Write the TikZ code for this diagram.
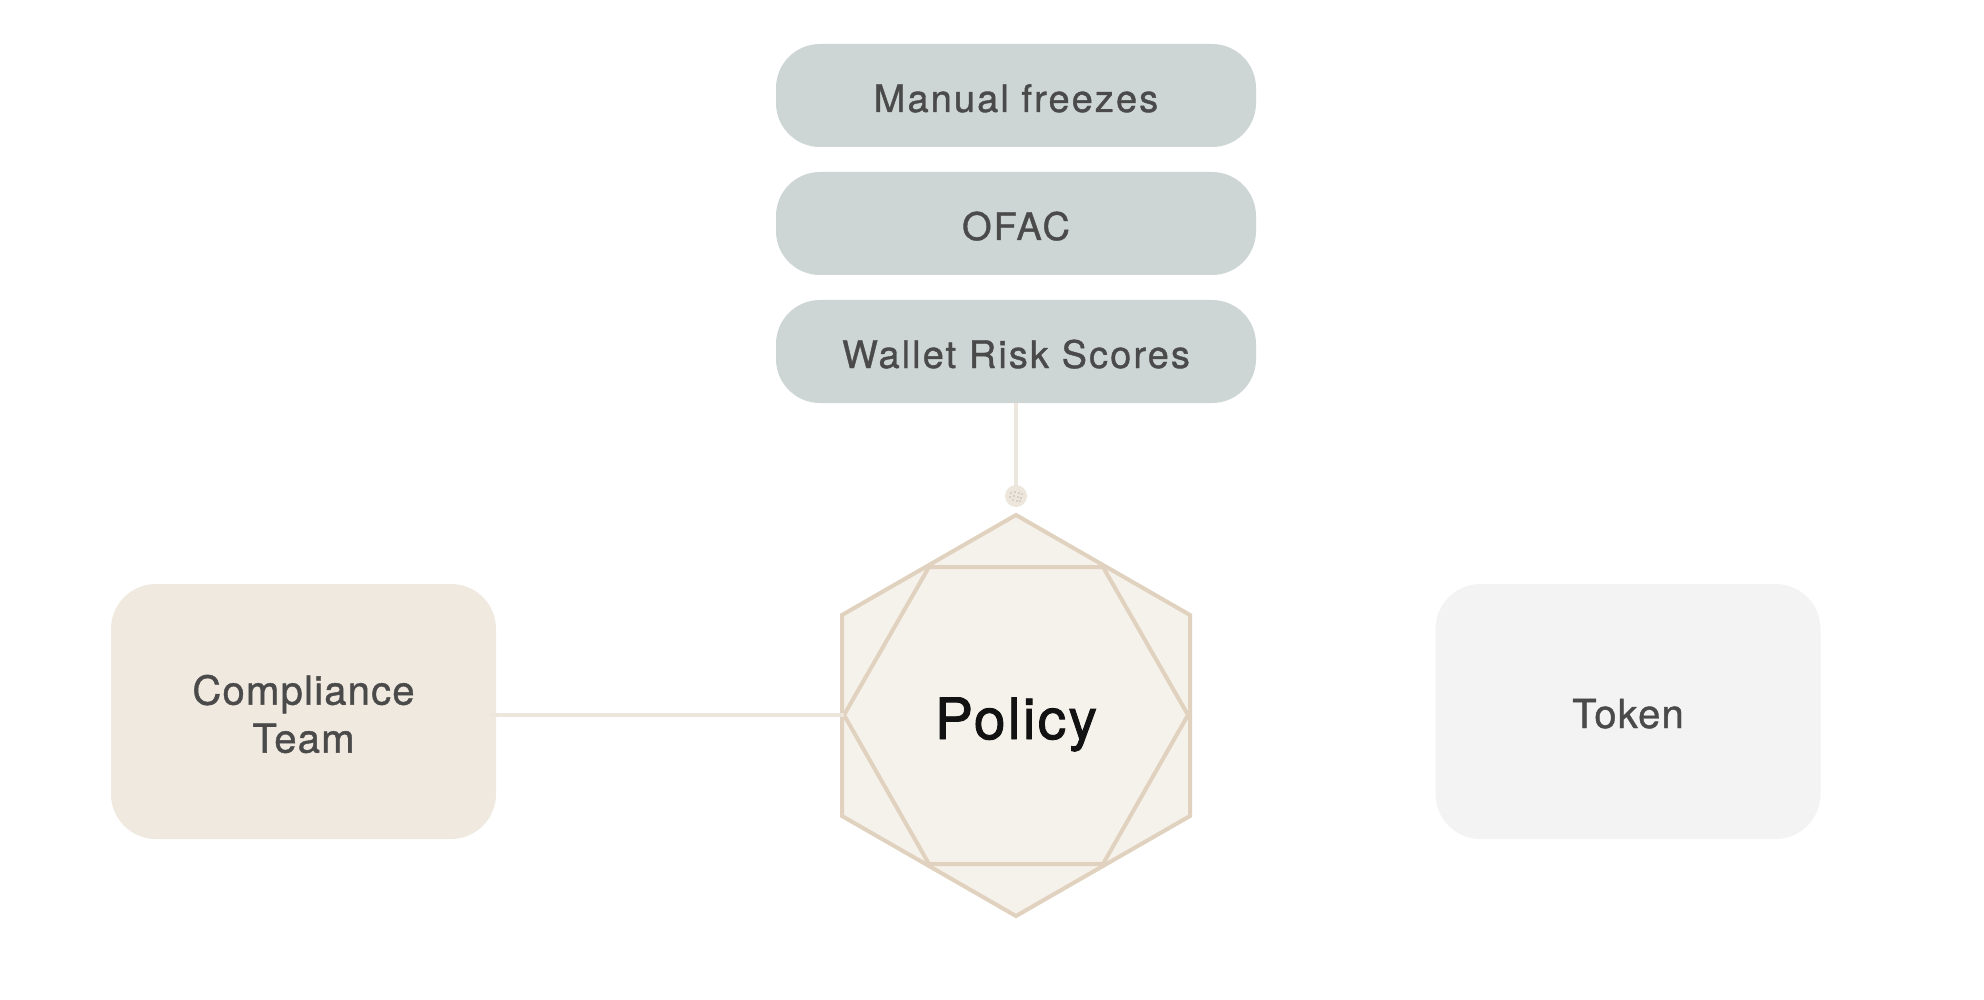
\documentclass[tikz,border=0pt]{standalone}
\usepackage{fontspec}
\usetikzlibrary{calc}
\newfontfamily\pillfont{TeX Gyre Heros}[LetterSpace=5.5,FakeBold=1]
\newfontfamily\uifont{TeX Gyre Heros}[LetterSpace=3,FakeBold=1]
\newfontfamily\policyfont{TeX Gyre Heros}[LetterSpace=4,FakeBold=1.6]
\definecolor{topfill}{HTML}{CDD6D4}
\definecolor{compfill}{HTML}{EFE9E0}
\definecolor{tokfill}{HTML}{F3F3F3}
\definecolor{hexfill}{HTML}{F5F2EC}
\definecolor{hexline}{HTML}{E0D2BE}
\definecolor{linec}{HTML}{EDE6DD}
\definecolor{txt}{HTML}{4A4A4A}
\definecolor{dotc}{HTML}{8A8378}
\begin{document}
\begin{tikzpicture}[x=1pt,y=-1pt,
  pill/.style={rectangle, rounded corners=44pt, fill=topfill, minimum width=480pt, minimum height=103pt, inner sep=0pt, text=txt, text height=33pt, text depth=0pt, font=\pillfont\fontsize{38}{44}\selectfont},
  sidebox/.style={rectangle, rounded corners=45pt, minimum width=385pt, minimum height=255pt, inner sep=0pt},
  sidetext/.style={inner sep=0pt, text=txt, align=center, font=\uifont\fontsize{40}{48}\selectfont},
  conn/.style={draw=linec, line width=4pt},
  hexstroke/.style={draw=hexline, line width=4pt, line join=miter}]
\fill[white] (0,0) rectangle (1984,1000);
\useasboundingbox (0,0) rectangle (1984,1000);

% top pills
\node[pill] (manual) at (1016,95.5) {Manual freezes};
\node[pill] (ofac) at (1016,223.5) {OFAC};
\node[pill] (wrs) at (1016,351.5) {Wallet Risk Scores};

% side boxes
\node[sidebox, fill=compfill] (comp) at (303.5,711.5) {};
\node[sidetext] (comptext) at (303.5,714) {Compliance\\Team};
\node[sidebox, fill=tokfill] (token) at (1628,711.5) {};
\node[sidetext, anchor=base] (toktext) at (1628,728) {Token};

% hexagon
\coordinate (o1) at (1016,515);
\coordinate (o2) at (1190,615);
\coordinate (o3) at (1190,816);
\coordinate (o4) at (1016,916);
\coordinate (o5) at (842,816);
\coordinate (o6) at (842,615);
\coordinate (i1) at (844,715);
\coordinate (i2) at (929,567);
\coordinate (i3) at (1103,567);
\coordinate (i4) at (1188,715);
\coordinate (i5) at (1103,864);
\coordinate (i6) at (929,864);
\fill[hexfill] (o1) -- (o2) -- (o3) -- (o4) -- (o5) -- (o6) -- cycle;
\draw[hexstroke] (o1) -- (o2) -- (o3) -- (o4) -- (o5) -- (o6) -- cycle;
\draw[hexstroke] (i1) -- (i2) -- (i3) -- (i4) -- (i5) -- (i6) -- cycle;
\node[text={black!93}, font=\policyfont\fontsize{57}{62}\selectfont, inner sep=0pt, anchor=base] (policy) at (1016,739) {Policy};

% connectors
\node[circle, fill=linec, minimum size=22pt, inner sep=0pt] (handle) at (1016,496) {};
\draw[conn] (wrs.south) -- (handle.north);
\draw[conn] ($(comp.east |- i1)+(-7,0)$) -- (i1);
\foreach \dx/\dy in {-5/-3,-1/-4,3/-3,6/-2,-6/1,-2/0,2/1,5/2,-3/4,1/5,4/5}
  \fill[dotc] ($(handle.center)+(\dx,\dy)$) circle (0.7pt);
\end{tikzpicture}
\end{document}
